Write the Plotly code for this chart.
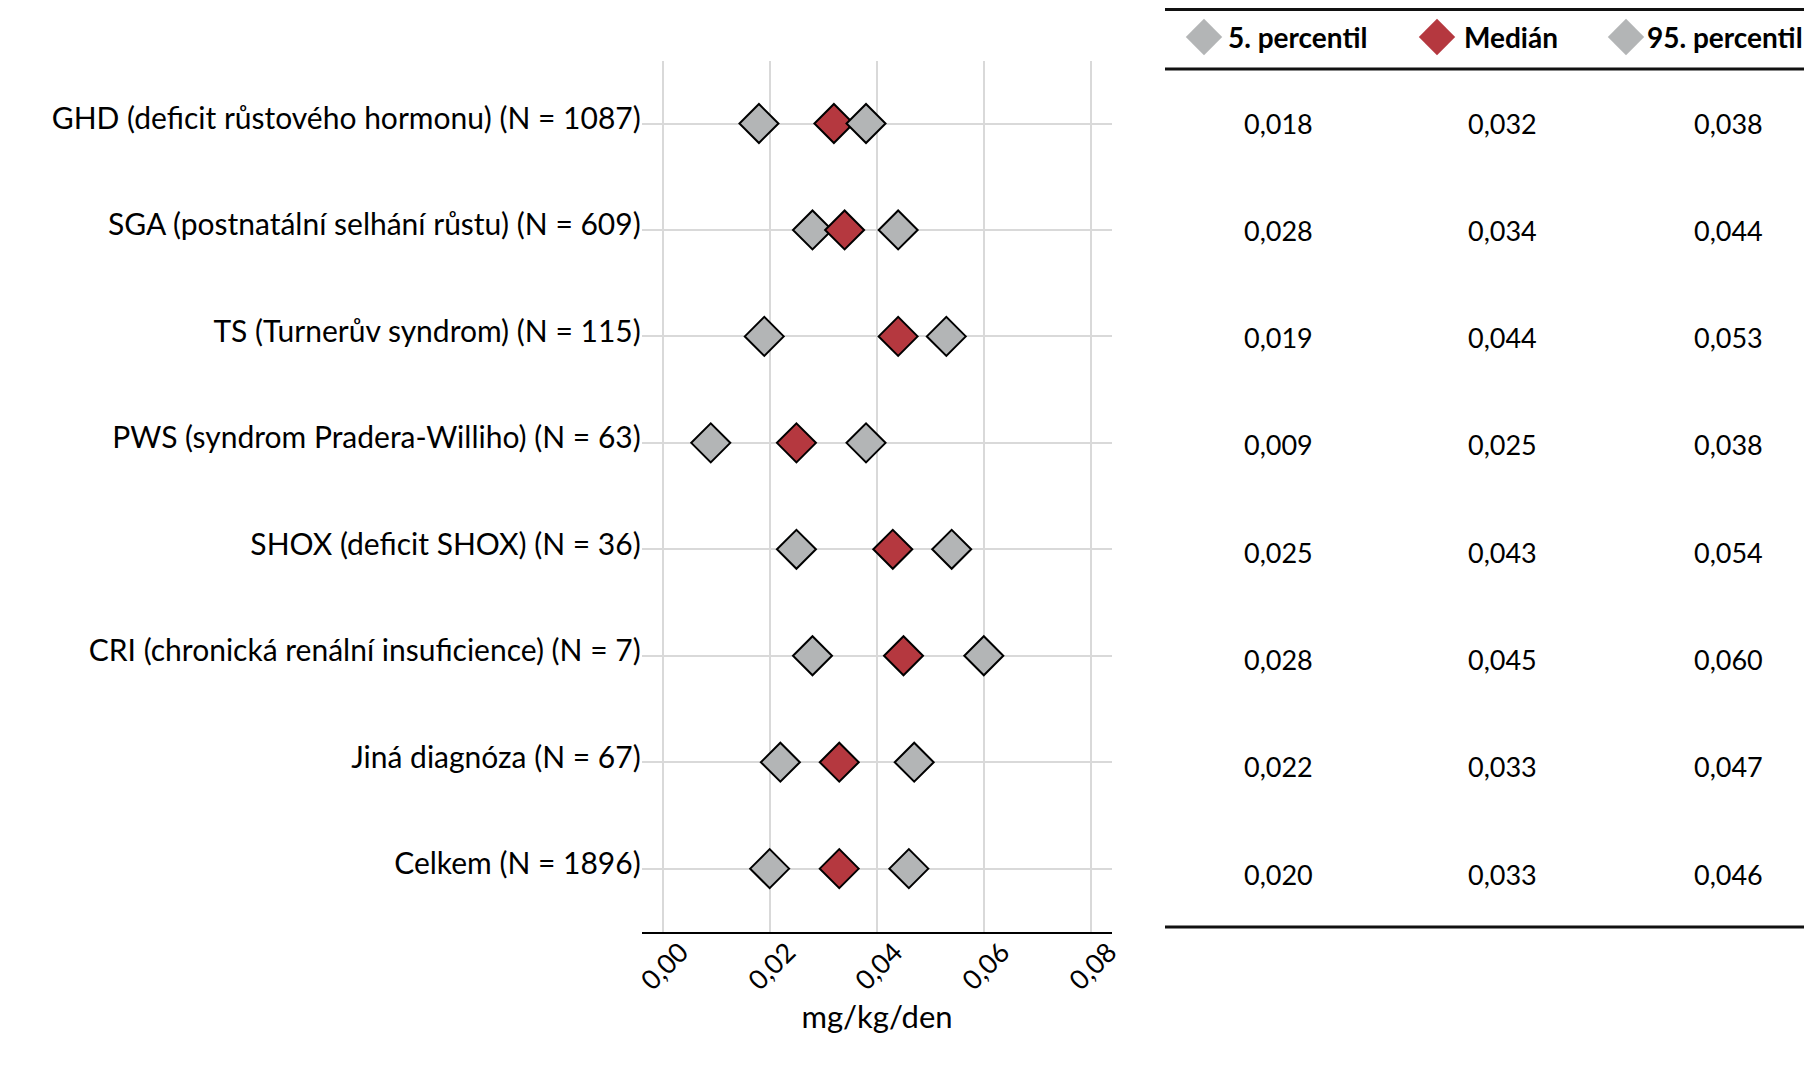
import plotly.graph_objects as go

# ---------------- data ----------------
categories = [
    "GHD (deficit růstového hormonu) (N = 1087)",
    "SGA (postnatální selhání růstu) (N = 609)",
    "TS (Turnerův syndrom) (N = 115)",
    "PWS (syndrom Pradera-Williho) (N = 63)",
    "SHOX (deficit SHOX) (N = 36)",
    "CRI (chronická renální insuficience) (N = 7)",
    "Jiná diagnóza (N = 67)",
    "Celkem (N = 1896)",
]
p5 = [0.018, 0.028, 0.019, 0.009, 0.025, 0.028, 0.022, 0.020]
median = [0.032, 0.034, 0.044, 0.025, 0.043, 0.045, 0.033, 0.033]
p95 = [0.038, 0.044, 0.053, 0.038, 0.054, 0.060, 0.047, 0.046]
series_names = ["5. percentil", "Medián", "95. percentil"]
x_tickvals = [0.0, 0.02, 0.04, 0.06, 0.08]
x_ticktext = ["0,00", "0,02", "0,04", "0,06", "0,08"]
x_title = "mg/kg/den"

# ---------------- style ----------------
PAGE_W, PAGE_H = 1812, 1074
OFF = 8                      # default page body margin
W, H = PAGE_W - 2 * OFF, PAGE_H - 2 * OFF
FONT = "Lato"
GRAY = "#B3B5B6"
RED = "#B5383F"
GRID = "#D9D9D9"
series = [p5, median, p95]
colors = [GRAY, RED, GRAY]

def fmt(v):
    return f"{v:.3f}".replace(".", ",")

fig = go.Figure()

for name, vals, col in zip(series_names, series, colors):
    fig.add_trace(go.Scatter(
        x=vals, y=categories, mode="markers", name=name, showlegend=False,
        marker=dict(symbol="diamond", size=30, color=col,
                    line=dict(color="black", width=2)),
        xaxis="x", yaxis="y", cliponaxis=False,
    ))

# header symbols (overlay axes in page pixel coordinates)
leg_x = [1204, 1437, 1626]
leg_text_x = [1226, 1462, 1645]
leg_y = 37
fig.add_trace(go.Scatter(
    x=leg_x, y=[leg_y] * 3, mode="markers", showlegend=False, hoverinfo="skip",
    marker=dict(symbol="diamond", size=28, color=colors, line=dict(width=0)),
    xaxis="x2", yaxis="y2", cliponaxis=False,
))

annotations = []
for tx, name in zip(leg_text_x, series_names):
    annotations.append(dict(
        x=tx, y=leg_y, xref="x2", yref="y2", text=f"<b>{name}</b>",
        showarrow=False, xanchor="left", yanchor="middle",
        font=dict(family=FONT, size=28, color="black"),
    ))

# table values
col_x = [1278, 1502, 1728]
row0, row_step = 123, 107.3
for i in range(len(categories)):
    for cx, vals in zip(col_x, series):
        annotations.append(dict(
            x=cx, y=row0 + i * row_step, xref="x2", yref="y2", text=fmt(vals[i]),
            showarrow=False, xanchor="center", yanchor="middle",
            font=dict(family=FONT, size=27, color="black"),
        ))

shapes = []
for yy in [9.5, 69, 927]:
    shapes.append(dict(type="line", xref="x2", yref="y2", x0=1165, x1=PAGE_W, y0=yy, y1=yy,
                       line=dict(color="#111111", width=3)))

x0_px, x1_px = 641.7, 1112.3
y_top_px, y_bot_px = 60.7, 932

fig.update_layout(
    width=W, height=H,
    margin=dict(l=0, r=0, t=0, b=0),
    paper_bgcolor="white", plot_bgcolor="rgba(0,0,0,0)",
    font=dict(family=FONT, color="black"),
    showlegend=False,
    xaxis=dict(
        domain=[(x0_px - OFF) / W, (x1_px - OFF) / W],
        range=[-0.0039, 0.0840],
        tickvals=x_tickvals, ticktext=x_ticktext,
        tickangle=-45, tickfont=dict(family=FONT, size=27, color="black"),
        ticklabelshift=18, ticklabelstandoff=-8,
        showgrid=True, gridcolor=GRID, gridwidth=2,
        zeroline=False, showline=True, linecolor="black", linewidth=1.5,
        ticks="", anchor="y", automargin=False,
        title=dict(text=x_title, font=dict(family=FONT, size=31, color="black"), standoff=11),
    ),
    yaxis=dict(
        domain=[1 - (y_bot_px - OFF) / H, 1 - (y_top_px - OFF) / H],
        type="category", categoryarray=categories, categoryorder="array",
        range=[7.595, -0.59],
        showgrid=True, gridcolor=GRID, gridwidth=2,
        zeroline=False, showline=False, ticks="",
        tickfont=dict(family=FONT, size=30, color="black"),
        ticklabelstandoff=0, ticklabelshift=5,
        anchor="x", automargin=False,
    ),
    xaxis2=dict(domain=[0, 1], range=[OFF, OFF + W], visible=False, anchor="y2", fixedrange=True),
    yaxis2=dict(domain=[0, 1], range=[OFF + H, OFF], visible=False, anchor="x2", fixedrange=True),
    annotations=annotations,
    shapes=shapes,
)

fig.write_html("out.html")
